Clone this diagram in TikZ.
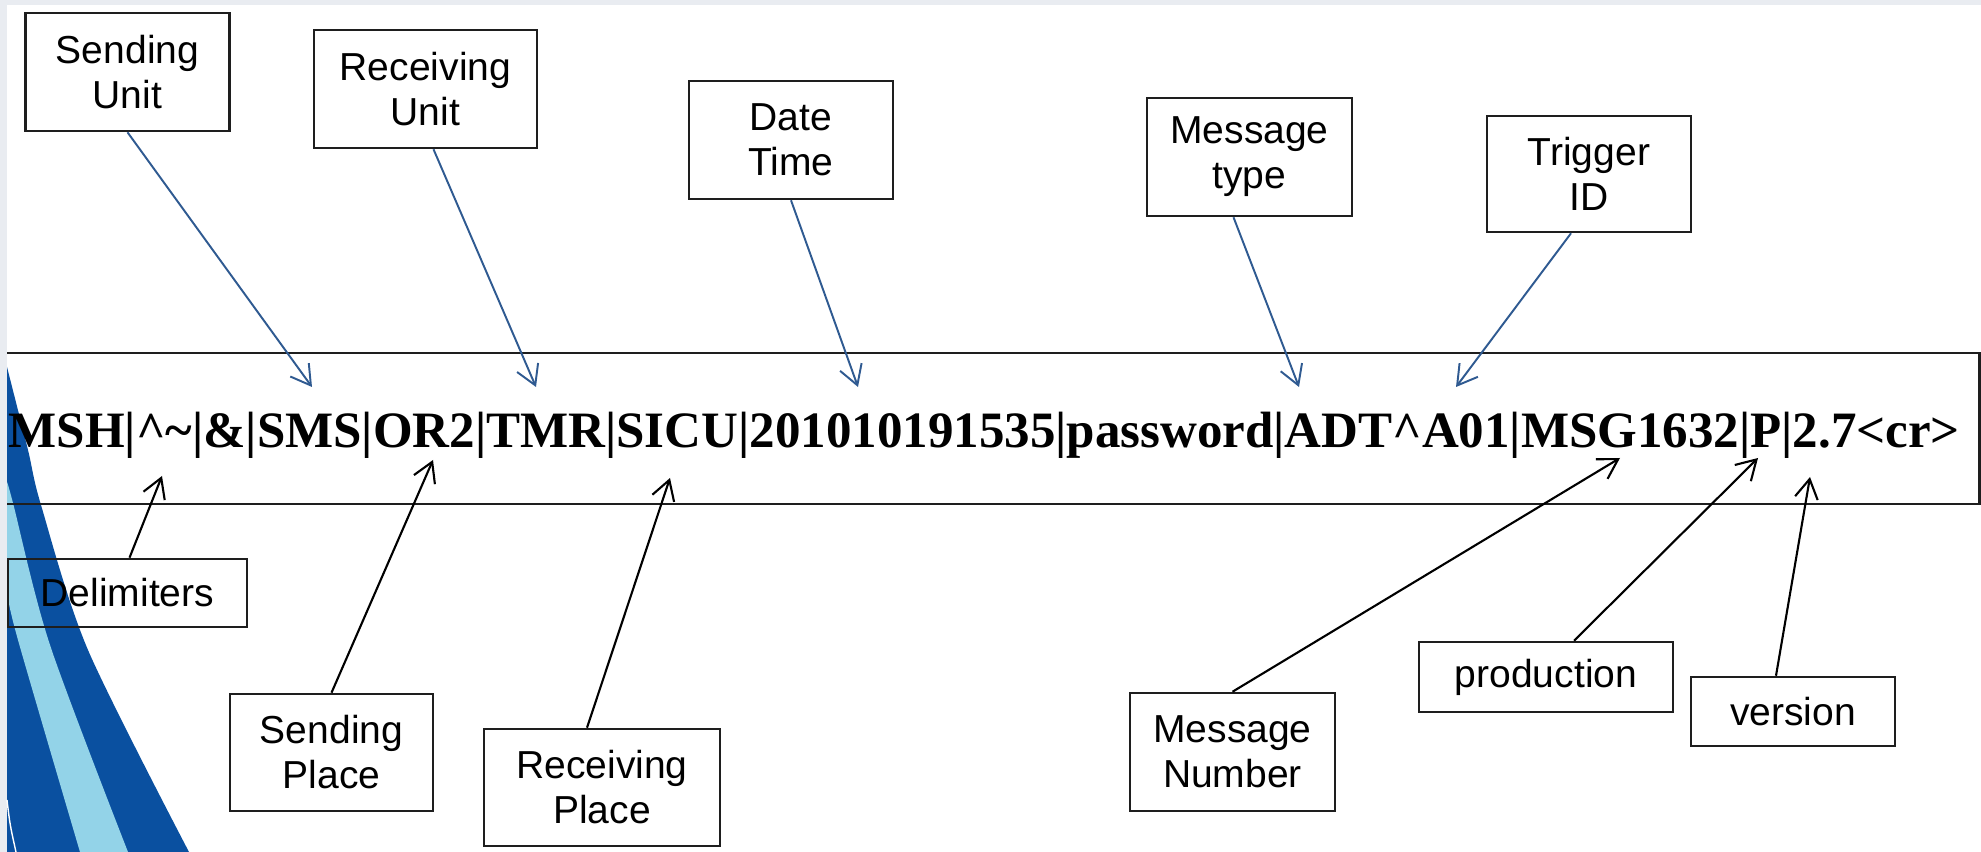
\documentclass[tikz,border=0pt]{standalone}
\usepackage{fontspec}
\setmainfont{Liberation Sans}
\newfontfamily\msgfont{Liberation Serif}
\usetikzlibrary{arrows.meta,calc}

\definecolor{pagebg}{RGB}{233,236,241}
\definecolor{swdark}{RGB}{10,80,160}
\definecolor{swlight}{RGB}{147,211,232}
\definecolor{ptrblue}{RGB}{47,90,145}
\definecolor{boxline}{RGB}{30,30,30}

\tikzset{
  lbl/.style={draw=boxline, line width=0.7pt, align=center, inner sep=0pt,
    font=\fontsize{11.1}{12.8}\selectfont, text=black},
  bluearrow/.style={draw=ptrblue, line width=0.55pt,
    -{Straight Barb[length=5.5pt,width=6.5pt]}},
  blackarrow/.style={draw=black, line width=0.6pt,
    -{Straight Barb[length=5.5pt,width=6.5pt]}},
  msgtext/.style={anchor=base west, inner sep=0pt,
    font=\msgfont\bfseries\fontsize{14.5}{16}\selectfont},
}

\begin{document}
\begin{tikzpicture}[x=0.01cm,y=-0.01cm]
\useasboundingbox (0,0) rectangle (1981,852);
% slide background and white panel
\fill[pagebg] (0,0) rectangle (1981,852);
\fill[white] (7,5) rectangle (1981,852);

% decorative swoosh in the lower left corner
\fill[swdark] plot[smooth] coordinates {(7,367) (28,450) (41,505) (88,650) (189,852)}
  -- (7,852) -- cycle;
\fill[swlight] plot[smooth] coordinates {(7,482) (13,503) (50,645) (128,852)}
  -- (80,852) -- plot[smooth] coordinates {(80,852) (18,640) (7,592)} -- cycle;
\draw[white, line width=0.4pt] (7,800) .. controls (10,825) .. (16,852);

% the MSH segment
\node[msgtext] (msg) at (8,448)
  {MSH|\textasciicircum\textasciitilde|\&|SMS|OR2|TMR|SICU|201010191535|password|ADT\textasciicircum A01|MSG1632|P|2.7<cr>};
\draw[boxline, line width=0.85pt] (7,353) -- (1979,353) -- (1979,504) -- (7,504);

% field labels above
\node[lbl, minimum width=20.4mm, minimum height=11.8mm] (su) at (127.5,72)  {Sending\\Unit};
\node[lbl, minimum width=22.3mm, minimum height=11.8mm] (ru) at (425.5,89)  {Receiving\\Unit};
\node[lbl, minimum width=20.4mm, minimum height=11.8mm] (dt) at (791,140)   {Date\\Time};
\node[lbl, minimum width=20.5mm, minimum height=11.8mm] (mt) at (1249.5,157){Message\\type};
\node[lbl, minimum width=20.4mm, minimum height=11.6mm] (tr) at (1589,174)  {Trigger\\ID};

% field labels below
\node[lbl, minimum width=23.9mm, minimum height=6.8mm]  (dl) at (127.5,593) {Delimiters};
\node[lbl, minimum width=20.3mm, minimum height=11.7mm] (sp) at (331.5,752.5){Sending\\Place};
\node[lbl, minimum width=23.6mm, minimum height=11.7mm] (rp) at (602,787.5) {Receiving\\Place};
\node[lbl, minimum width=20.5mm, minimum height=11.8mm] (mn) at (1232.5,752){Message\\Number};
\node[lbl, minimum width=25.4mm, minimum height=7.0mm]  (pr) at (1546,677)  {production};
\node[lbl, minimum width=20.4mm, minimum height=6.9mm]  (vr) at (1793,711.5){version};

% arrow targets inside the segment
\coordinate (t-su) at (312,387);
\coordinate (t-ru) at (536,387);
\coordinate (t-dt) at (858,387);
\coordinate (t-mt) at (1299,387);
\coordinate (t-tr) at (1456,387);
\coordinate (t-dl) at (162,476);
\coordinate (t-sp) at (433,460);
\coordinate (t-rp) at (670,478);
\coordinate (t-mn) at (1620,458);
\coordinate (t-pr) at (1758,458);
\coordinate (t-vr) at (1810,477);

% pointers from the labels
\draw[bluearrow] (su.south) -- (t-su);
\draw[bluearrow] ($(ru.south)+(8,0)$) -- (t-ru);
\draw[bluearrow] (dt.south) -- (t-dt);
\draw[bluearrow] ($(mt.south)+(-16,0)$) -- (t-mt);
\draw[bluearrow] ($(tr.south)+(-18,0)$) -- (t-tr);
\draw[blackarrow] ($(dl.north)+(2,0)$) -- (t-dl);
\draw[blackarrow] (sp.north) -- (t-sp);
\draw[blackarrow] ($(rp.north)+(-15,0)$) -- (t-rp);
\draw[blackarrow] (mn.north) -- (t-mn);
\draw[blackarrow] ($(pr.north)+(28,0)$) -- (t-pr);
\draw[blackarrow] ($(vr.north)+(-17,0)$) -- (t-vr);
\end{tikzpicture}
\end{document}
